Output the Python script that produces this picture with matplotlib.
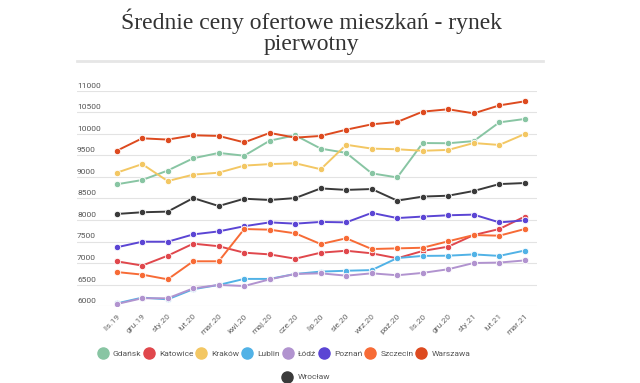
import numpy as np
import matplotlib
matplotlib.use("Agg")
import matplotlib.pyplot as plt
from matplotlib.lines import Line2D
import matplotlib.transforms as mtransforms

plt.rcParams['font.family'] = ['Roboto', 'DejaVu Sans']

months = ['lis.19', 'gru.19', 'sty.20', 'lut.20', 'mar.20', 'kwi.20', 'maj.20', 'cze.20',
          'lip.20', 'sie.20', 'wrz.20', 'paź.20', 'lis.20', 'gru.20', 'sty.21', 'lut.21', 'mar.21']

gdansk = [8830, 8930, 9150, 9435, 9560, 9495, 9845, 9970, 9660, 9560, 9085, 8990, 9790, 9785, 9835, 10270, 10350]
katowice = [7040, 6940, 7170, 7450, 7390, 7240, 7200, 7100, 7240, 7285, 7225, 7110, 7280, 7380, 7650, 7790, 8080]
krakow = [9100, 9300, 8905, 9055, 9100, 9265, 9300, 9320, 9180, 9750, 9660, 9645, 9610, 9630, 9790, 9745, 10000]
lublin = [6060, 6195, 6155, 6390, 6490, 6630, 6630, 6745, 6800, 6820, 6835, 7115, 7165, 7170, 7200, 7165, 7290]
lodz = [6045, 6180, 6180, 6410, 6490, 6465, 6620, 6745, 6760, 6705, 6760, 6715, 6770, 6855, 7000, 7010, 7060]
poznan = [7365, 7495, 7495, 7665, 7735, 7855, 7945, 7915, 7955, 7945, 8165, 8045, 8080, 8110, 8125, 7945, 7990]
szczecin = [6790, 6730, 6620, 7040, 7040, 7790, 7775, 7690, 7440, 7575, 7325, 7340, 7355, 7505, 7650, 7635, 7790]
warszawa = [9610, 9900, 9870, 9970, 9955, 9805, 10025, 9915, 9955, 10100, 10225, 10280, 10520, 10575, 10480, 10665, 10760]
wroclaw = [8140, 8180, 8195, 8510, 8325, 8495, 8465, 8510, 8735, 8700, 8720, 8450, 8545, 8565, 8675, 8835, 8860]

cities = ['Gdańsk', 'Katowice', 'Kraków', 'Lublin', 'Łódź', 'Poznań', 'Szczecin', 'Warszawa', 'Wrocław']
series = [gdansk, katowice, krakow, lublin, lodz, poznan, szczecin, warszawa, wroclaw]
colors = ['#88c5a3', '#e0474c', '#f3c763', '#51b2e6', '#b193cf', '#5b45d4', '#f76b36', '#dd4a1f', '#3a3a3a']

y_ticks = [6000, 6500, 7000, 7500, 8000, 8500, 9000, 9500, 10000, 10500, 11000]

fig = plt.figure(figsize=(6.4, 3.83), dpi=100)
ax = fig.add_axes([77 / 640, 1 - 306 / 383, 460 / 640, 215 / 383])

x = np.arange(len(months))
for name, vals, col in zip(cities, series, colors):
    ax.plot(x, vals, color=col, lw=1.4, marker='o', ms=4.6,
            markeredgecolor='white', markeredgewidth=0.6, zorder=3)

ax.set_ylim(6000, 11000)
ax.set_xlim(-1.557, 16.48)
ax.set_yticks(y_ticks)
ax.set_yticklabels([])
ax.tick_params(axis='y', length=0)
ax.grid(axis='y', color='#e3e3e3', lw=0.8, zorder=0)
for s in ax.spines.values():
    s.set_visible(False)

# y labels sit above their gridline, left aligned
trans = mtransforms.blended_transform_factory(ax.transAxes, ax.transData)
offset = mtransforms.ScaledTranslation(0, 2 / 100, fig.dpi_scale_trans)
for v in y_ticks:
    ax.text(0, v, str(v), transform=trans + offset, ha='left', va='bottom',
            fontsize=6, color='#555555')

ax.set_xticks(x)
ax.set_xticklabels(months, rotation=45, ha='right', rotation_mode='anchor',
                   fontsize=6, color='#666666')
ax.tick_params(axis='x', length=0, pad=5)

# title + separator line
fig.text(0.487, 1 - 8 / 383, 'Średnie ceny ofertowe mieszkań - rynek\npierwotny',
         ha='center', va='top', fontsize=17, family='Liberation Serif',
         color='#333333', linespacing=1.05)
fig.add_artist(Line2D([77 / 640, 543 / 640], [1 - 60.5 / 383, 1 - 60.5 / 383],
                      color='#e6e6e6', lw=2))

handles = [Line2D([], [], ls='none', marker='o', ms=8, color=c) for c in colors]
fig.legend(handles[:8], cities[:8], loc='center', ncol=8,
           bbox_to_anchor=(285 / 640, 1 - 354 / 383), frameon=False,
           fontsize=6, handletextpad=0.9, columnspacing=0.55,
           labelcolor='#555555', handlelength=0.7)
fig.legend(handles[8:], cities[8:], loc='center', ncol=1,
           bbox_to_anchor=(307 / 640, 1 - 377 / 383), frameon=False,
           fontsize=6, handletextpad=0.9, labelcolor='#555555',
           handlelength=0.7)

fig.savefig('out.png', dpi=100, facecolor='white')
